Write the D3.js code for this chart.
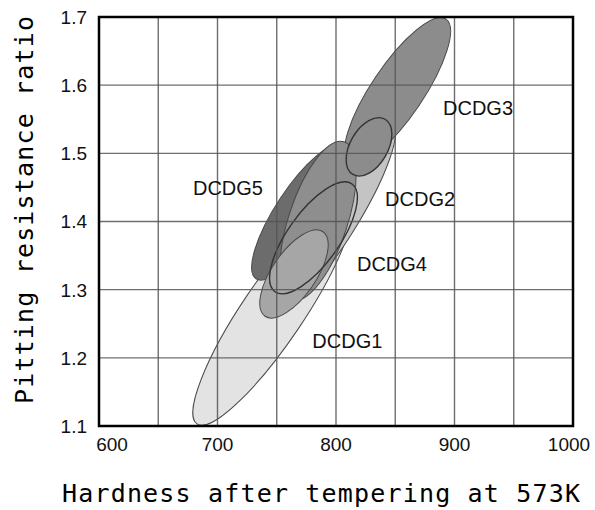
<!DOCTYPE html>
<html>
<head>
<meta charset="utf-8">
<script src="https://cdn.jsdelivr.net/npm/d3@7"></script>
<style>
  body { margin: 0; background: #fff; }
  svg { display: block; }
</style>
</head>
<body>
<div id="chart"></div>
<script>
// ---- data ----
var hardnessTicks = [600, 700, 800, 900, 1000];
var ratioTicks = [1.1, 1.2, 1.3, 1.4, 1.5, 1.6, 1.7];

// each scatter region is an ellipse: both ends of its long axis (hardness, ratio)
// plus the ratio of its short axis to its long axis. listed in drawing order
var ellipseNames   = ['DCDG1', 'DCDG2', 'DCDG3', 'DCDG5', 'DCDG5 core', 'DCDG4', 'DCDG4 outer', 'DCDG3 core'];
var lowHardness    = [682.7, 750.0, 811.0, 732.5, 762.9, 740.1, 748.5, 814.3];
var lowRatio       = [1.103, 1.270, 1.486, 1.316, 1.285, 1.261, 1.297, 1.469];
var highHardness   = [810.0, 847.3, 892.8, 806.8, 806.8, 789.0, 813.5, 841.4];
var highRatio      = [1.430, 1.543, 1.697, 1.512, 1.517, 1.385, 1.455, 1.550];
var widthRatio     = [0.227, 0.215, 0.300, 0.300, 0.353, 0.430, 0.390, 0.590];

var labelNames    = ['DCDG1', 'DCDG2', 'DCDG3', 'DCDG4', 'DCDG5'];
var labelHardness = [780, 841.4, 890.3, 817.7, 679.3];
var labelRatio    = [1.214, 1.423, 1.556, 1.327, 1.439];

// ---- layout ----
var margin = {top: 17, right: 22, bottom: 84, left: 99};
var width = 595 - margin.left - margin.right;   // 474
var height = 510 - margin.top - margin.bottom;  // 409

var shade = {
  'DCDG1': '#e3e3e3', 'DCDG2': '#c4c4c4', 'DCDG3': '#8c8c8c', 'DCDG5': '#6c6c6c',
  'DCDG5 core': '#8e8e8e', 'DCDG4': '#a6a6a6', 'DCDG4 outer': 'none', 'DCDG3 core': '#8c8c8c'
};
var outline = {'DCDG4 outer': '#333', 'DCDG3 core': '#333'};

var x = d3.scaleLinear().domain([600, 1000]).range([0, width]);
var y = d3.scaleLinear().domain([1.1, 1.7]).range([height, 0]);

var svg = d3.select('#chart').append('svg')
  .attr('width', 595)
  .attr('height', 510);

var g = svg.append('g')
  .attr('transform', 'translate(' + margin.left + ',' + margin.top + ')');

// ellipses
var ellipses = ellipseNames.map(function(name, i) {
  var x1 = x(lowHardness[i]), y1 = y(lowRatio[i]);
  var x2 = x(highHardness[i]), y2 = y(highRatio[i]);
  var a = Math.hypot(x2 - x1, y2 - y1) / 2;
  return {
    name: name,
    cx: (x1 + x2) / 2,
    cy: (y1 + y2) / 2,
    rx: a,
    ry: a * widthRatio[i],
    angle: Math.atan2(y2 - y1, x2 - x1) * 180 / Math.PI
  };
});

g.append('clipPath').attr('id', 'plot-clip')
  .append('rect').attr('width', width).attr('height', height);

g.append('g').attr('clip-path', 'url(#plot-clip)')
  .selectAll('ellipse')
  .data(ellipses)
  .enter()
  .append('ellipse')
  .attr('cx', function(d) { return d.cx; })
  .attr('cy', function(d) { return d.cy; })
  .attr('rx', function(d) { return d.rx; })
  .attr('ry', function(d) { return d.ry; })
  .attr('transform', function(d) { return 'rotate(' + d.angle + ',' + d.cx + ',' + d.cy + ')'; })
  .style('fill', function(d) { return shade[d.name]; })
  .style('stroke', function(d) { return outline[d.name] || '#4a4a4a'; })
  .style('stroke-width', function(d) { return outline[d.name] ? 1.4 : 1; });

// grid (drawn over the regions, as in the figure)
var grid = g.append('g').attr('class', 'grid')
  .style('stroke', '#555')
  .style('stroke-width', 1.4)
  .style('stroke-opacity', 0.85);

grid.selectAll('.vline')
  .data(d3.range(650, 1000, 50))
  .enter()
  .append('line')
  .attr('x1', function(d) { return x(d); })
  .attr('x2', function(d) { return x(d); })
  .attr('y1', 0)
  .attr('y2', height);

grid.selectAll('.hline')
  .data(ratioTicks.slice(1, -1))
  .enter()
  .append('line')
  .attr('x1', 0)
  .attr('x2', width)
  .attr('y1', function(d) { return y(d); })
  .attr('y2', function(d) { return y(d); });

// region labels
g.selectAll('.region-label')
  .data(labelNames)
  .enter()
  .append('text')
  .attr('class', 'region-label')
  .attr('x', function(d, i) { return x(labelHardness[i]); })
  .attr('y', function(d, i) { return y(labelRatio[i]); })
  .style('font-family', '"Liberation Sans", Arial, sans-serif')
  .style('font-size', '20px')
  .style('fill', '#111')
  .text(function(d) { return d; });

// frame
g.append('rect')
  .attr('width', width)
  .attr('height', height)
  .style('fill', 'none')
  .style('stroke', '#000')
  .style('stroke-width', 2.5);

// tick labels
g.selectAll('.xtick')
  .data(hardnessTicks)
  .enter()
  .append('text')
  .attr('class', 'xtick')
  .attr('x', function(d) { return x(d); })
  .attr('y', height + 25)
  .attr('dx', function(d, i) { return i === 0 ? 13 : (i === hardnessTicks.length - 1 ? -4 : 0); })
  .attr('text-anchor', 'middle')
  .style('font-family', '"Liberation Sans", Arial, sans-serif')
  .style('font-size', '19px')
  .style('fill', '#111')
  .text(function(d) { return d; });

g.selectAll('.ytick')
  .data(ratioTicks)
  .enter()
  .append('text')
  .attr('class', 'ytick')
  .attr('x', -12)
  .attr('y', function(d) { return y(d); })
  .attr('dy', '0.36em')
  .attr('text-anchor', 'end')
  .style('font-family', '"Liberation Sans", Arial, sans-serif')
  .style('font-size', '19px')
  .style('fill', '#111')
  .text(function(d) { return d3.format('.1f')(d); });

// axis titles
svg.append('text')
  .attr('x', 62)
  .attr('y', 502)
  .attr('textLength', 518)
  .attr('lengthAdjust', 'spacing')
  .style('font-family', '"DejaVu Sans Mono", monospace')
  .style('font-size', '25px')
  .style('fill', '#000')
  .text('Hardness after tempering at 573K');

svg.append('text')
  .attr('transform', 'translate(33,404) rotate(-90)')
  .attr('textLength', 388)
  .attr('lengthAdjust', 'spacing')
  .style('font-family', '"DejaVu Sans Mono", monospace')
  .style('font-size', '25px')
  .style('fill', '#000')
  .text('Pitting resistance ratio');
</script>
</body>
</html>
